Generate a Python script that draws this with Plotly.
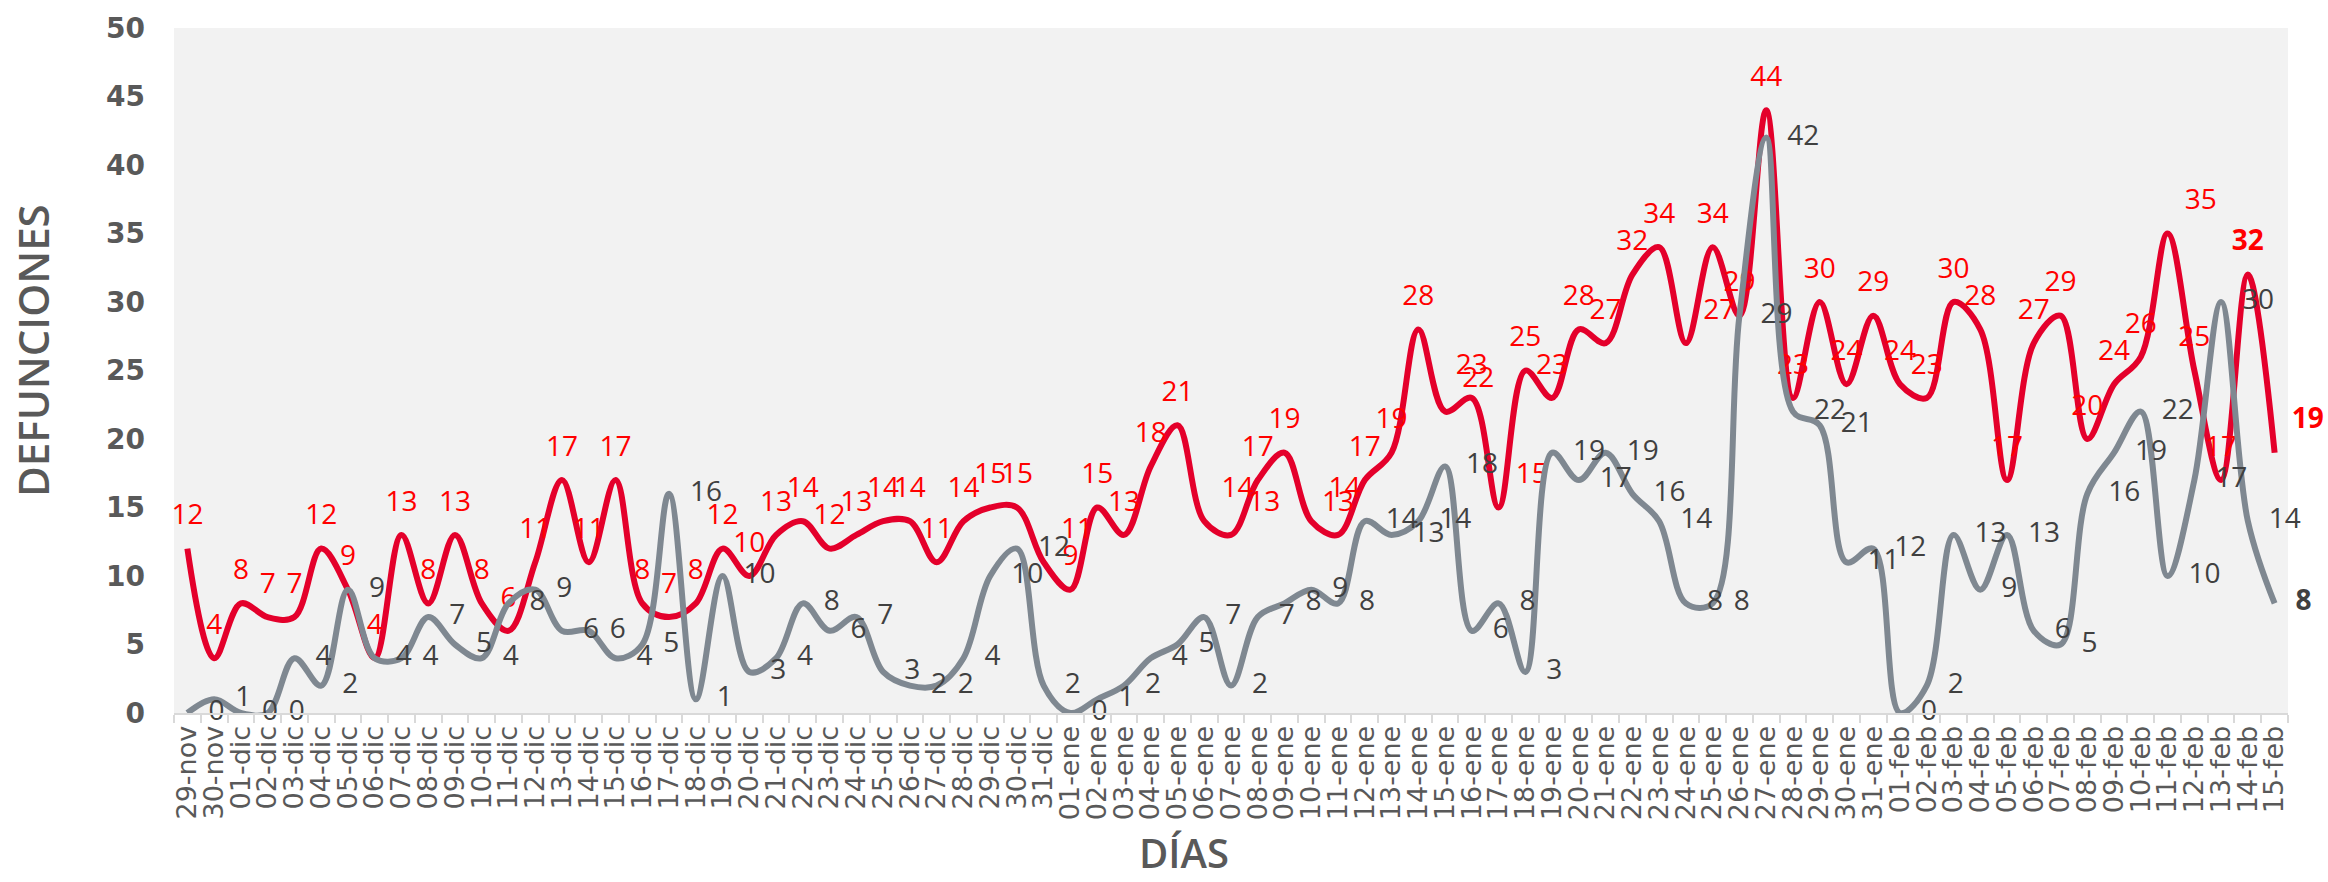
import plotly.graph_objects as go

# ---------------- data ----------------
dias = (["29-nov", "30-nov"]
        + [f"{d:02d}-dic" for d in range(1, 32)]
        + [f"{d:02d}-ene" for d in range(1, 32)]
        + [f"{d:02d}-feb" for d in range(1, 16)])

serie_roja = [12, 4,
              8, 7, 7, 12, 9, 4, 13, 8, 13, 8, 6, 11, 17, 11, 17, 8, 7, 8, 12, 10,
              13, 14, 12, 13, 14, 14, 11, 14, 15, 15, 11,
              9, 15, 13, 18, 21, 14, 13, 17, 19, 14, 13, 17, 19, 28, 22, 23, 15, 25,
              23, 28, 27, 32, 34, 27, 34, 29, 44, 23, 30, 24, 29,
              24, 23, 30, 28, 17, 27, 29, 20, 24, 26, 35, 25, 17, 32, 19]

serie_gris = [0, 1,
              0, 0, 4, 2, 9, 4, 4, 7, 5, 4, 8, 9, 6, 6, 4, 5, 16, 1, 10, 3,
              4, 8, 6, 7, 3, 2, 2, 4, 10, 12, 2,
              0, 1, 2, 4, 5, 7, 2, 7, 8, 9, 8, 14, 13, 14, 18, 6, 8, 3, 19, 17,
              19, 16, 14, 8, 8, 29, 42, 22, 21, 11, 12,
              0, 2, 13, 9, 13, 6, 5, 16, 19, 22, 10, 17, 30, 14, 8]

y_ticks = [0, 5, 10, 15, 20, 25, 30, 35, 40, 45, 50]

# ---------------- styling ----------------
FONT = "Open Sans"
WIDE = "DejaVu Sans"
RED_LINE = "#e4002b"
RED_TXT = "#ff0000"
GRAY_LINE = "#7f8891"
GRAY_TXT = "#404040"
AXIS_TXT = "#595959"

red_right = {"31-dic", "06-ene", "07-ene", "10-ene", "15-ene", "17-ene",
             "24-ene", "11-feb", "15-feb"}
red_pos = ["top right" if d in red_right else "top center" for d in dias]

red_text = [str(v) for v in serie_roja]
red_text[-2] = f"<b>{serie_roja[-2]}</b>"
red_text[-1] = f"<b>{serie_roja[-1]}</b>"
gray_text = [str(v) for v in serie_gris]
gray_text[-1] = f"<b>{serie_gris[-1]}</b>"

fig = go.Figure()
fig.add_trace(go.Scatter(
    x=dias, y=serie_roja, mode="lines+markers+text",
    line=dict(color=RED_LINE, width=6, shape="spline", smoothing=1),
    marker=dict(size=26, color="rgba(0,0,0,0)"),
    text=red_text, textposition=red_pos,
    textfont=dict(family=FONT, size=28, color=RED_TXT),
    cliponaxis=False, hoverinfo="skip", showlegend=False))
fig.add_trace(go.Scatter(
    x=dias, y=serie_gris, mode="lines+markers+text",
    line=dict(color=GRAY_LINE, width=6, shape="spline", smoothing=1),
    marker=dict(size=32, color="rgba(0,0,0,0)"),
    text=gray_text, textposition="middle right",
    textfont=dict(family=FONT, size=28, color=GRAY_TXT),
    cliponaxis=False, hoverinfo="skip", showlegend=False))

fig.update_layout(
    width=2328, height=882,
    margin=dict(l=174, r=40, t=21, b=169),
    paper_bgcolor="white", plot_bgcolor="#f2f2f2",
    font=dict(family=FONT, color=AXIS_TXT),
    xaxis=dict(type="category", range=[-0.5, len(dias) - 0.5],
               tickmode="array", tickvals=dias, ticktext=dias,
               tickangle=-90, tickson="boundaries",
               ticks="outside", ticklen=8, tickcolor="#d9d9d9", tickwidth=2,
               showline=True, linecolor="#d9d9d9", linewidth=2,
               showgrid=False, zeroline=False,
               tickfont=dict(family=WIDE, size=27, color=AXIS_TXT)),
    yaxis=dict(range=[0, 50], tickvals=y_ticks, showgrid=False, zeroline=False,
               showline=False, ticks="", ticklabelstandoff=28,
               tickfont=dict(family=WIDE, size=28, color=AXIS_TXT, weight="bold")),
    annotations=[
        dict(text="DEFUNCIONES", textangle=-90, xref="paper", yref="paper",
             x=-0.0667, y=0.53, showarrow=False, xanchor="center", yanchor="middle",
             font=dict(family=FONT, size=42, color=AXIS_TXT, weight=600)),
        dict(text="DÍAS", xref="paper", yref="paper", x=0.478, y=-0.204,
             showarrow=False, xanchor="center", yanchor="middle",
             font=dict(family=FONT, size=40, color=AXIS_TXT, weight=600)),
    ],
)

fig.write_html("out.html", config={"displayModeBar": False},
               post_script="document.body.style.margin='0';")
